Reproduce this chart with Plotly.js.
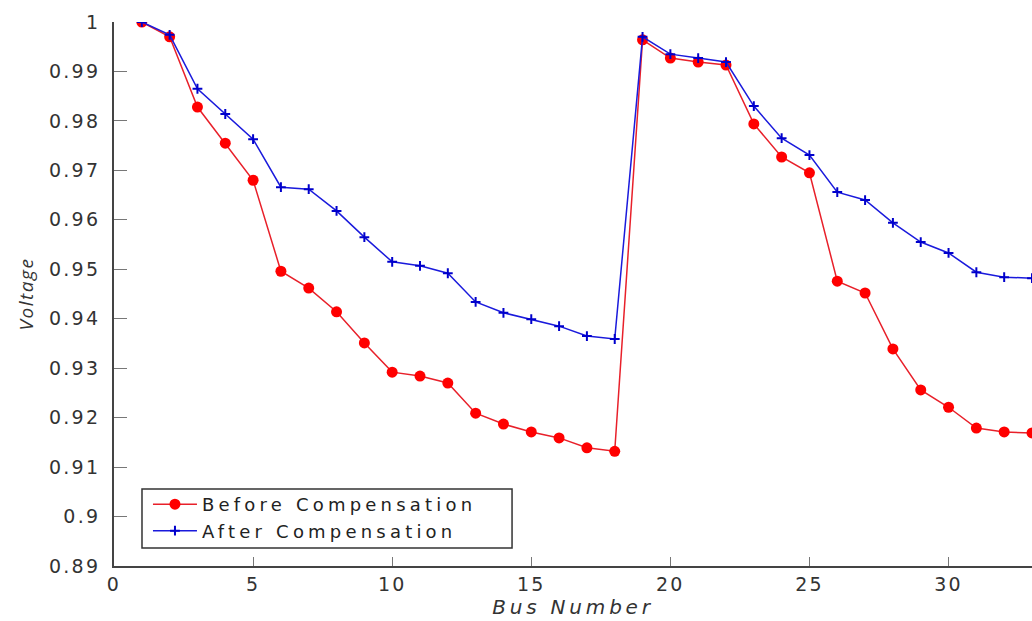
<!DOCTYPE html>
<html>
<head>
<meta charset="utf-8">
<script src="https://cdn.plot.ly/plotly-3.0.1.min.js"></script>
<style>
html, body { margin: 0; padding: 0; background: #fff; }
#chart { width: 1032px; height: 621px; }
text.legendtext { letter-spacing: 4.2px; }
g.xtick text, g.ytick text { letter-spacing: 2.2px; }
text.xtitle { letter-spacing: 3.8px; }
text.ytitle { letter-spacing: 1.5px; }
</style>
</head>
<body>
<div id="chart"></div>
<script>
const busNumbers = [1,2,3,4,5,6,7,8,9,10,11,12,13,14,15,16,17,18,19,20,21,22,23,24,25,26,27,28,29,30,31,32,33];
const beforeCompensation = [1.0000,0.9970,0.9828,0.9755,0.9680,0.9496,0.9462,0.9414,0.9351,0.9292,0.9284,0.9270,0.9209,0.9187,0.9171,0.9159,0.9139,0.9132,0.9964,0.9927,0.9919,0.9913,0.9794,0.9727,0.9695,0.9476,0.9452,0.9339,0.9256,0.9221,0.9179,0.9171,0.9169];
const afterCompensation = [1.0000,0.9974,0.9865,0.9814,0.9763,0.9666,0.9662,0.9618,0.9565,0.9515,0.9507,0.9492,0.9434,0.9412,0.9399,0.9385,0.9365,0.9359,0.9970,0.9935,0.9927,0.9919,0.9830,0.9765,0.9731,0.9656,0.9640,0.9594,0.9555,0.9533,0.9494,0.9484,0.9482];
const yTickVals = [0.89,0.9,0.91,0.92,0.93,0.94,0.95,0.96,0.97,0.98,0.99,1];
const yTickText = ['0.89','0.9','0.91','0.92','0.93','0.94','0.95','0.96','0.97','0.98','0.99','1'];
const xTickVals = [0,5,10,15,20,25,30];
const seriesNames = ['Before Compensation', 'After Compensation'];

const traces = [
  {
    x: busNumbers, y: beforeCompensation, name: seriesNames[0],
    type: 'scatter', mode: 'lines+markers',
    line: {color: '#e8202a', width: 1.5},
    marker: {symbol: 'circle', size: 11, color: '#ff0000'}
  },
  {
    x: busNumbers, y: afterCompensation, name: seriesNames[1],
    type: 'scatter', mode: 'lines+markers',
    line: {color: '#1a1adc', width: 1.5},
    marker: {symbol: 'cross-thin-open', size: 7, color: '#0000cc', line: {color: '#0000cc', width: 2}}
  }
];

const tickFont = {family: 'DejaVu Sans', size: 19, color: '#333'};

const layout = {
  width: 1032, height: 621,
  margin: {l: 114, r: 0, t: 22, b: 55},
  paper_bgcolor: '#fff', plot_bgcolor: '#fff',
  showlegend: true,
  legend: {
    x: 0.037, y: 0.147, xanchor: 'left', yanchor: 'top',
    bgcolor: 'rgba(0,0,0,0)', borderwidth: 0,
    font: {family: 'DejaVu Sans', size: 18, color: '#222'},
    tracegroupgap: 0, itemwidth: 44
  },
  shapes: [{
    type: 'rect', xref: 'paper', yref: 'paper',
    x0: 0.0305, x1: 0.4336, y0: 0.0331, y1: 0.1415,
    line: {color: '#333', width: 1.5}, fillcolor: 'rgba(0,0,0,0)', layer: 'above'
  }],
  xaxis: {
    range: [0, 33], tickvals: xTickVals, ticks: 'inside', ticklen: 9, tickwidth: 1,
    tickcolor: '#777', showline: true, linecolor: '#444', linewidth: 2,
    showgrid: false, zeroline: false, tickfont: tickFont, mirror: false,
    title: {text: 'Bus Number', font: {family: 'DejaVu Sans', size: 20, style: 'italic', color: '#333'}, standoff: 6}
  },
  yaxis: {
    range: [0.89, 1], tickvals: yTickVals, ticktext: yTickText, ticks: 'inside', ticklen: 13, tickwidth: 1,
    tickcolor: '#777', showline: true, linecolor: '#444', linewidth: 2,
    showgrid: false, zeroline: false, tickfont: tickFont, ticklabelstandoff: 8,
    title: {text: 'Voltage', font: {family: 'Open Sans', size: 19, style: 'italic', color: '#333'}, standoff: 10}
  }
};

Plotly.newPlot('chart', traces, layout, {displayModeBar: false, staticPlot: true});
</script>
</body>
</html>
